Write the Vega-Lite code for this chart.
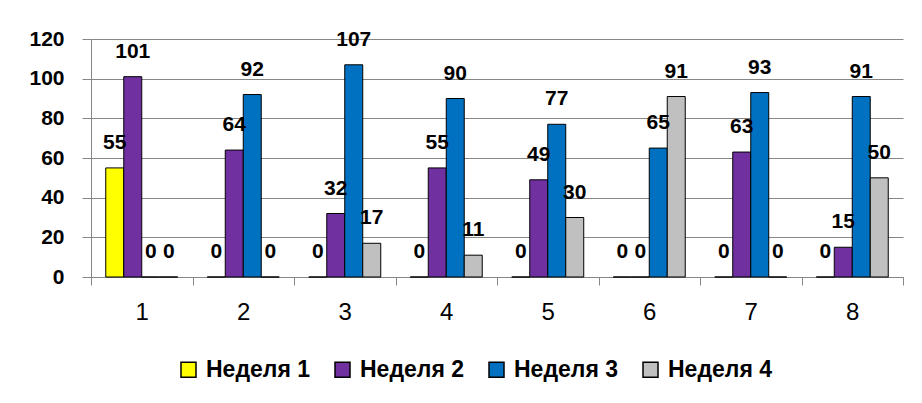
{
  "$schema": "https://vega.github.io/schema/vega-lite/v6.json",
  "autosize": {"type": "none"},
  "width": 812,
  "height": 238,
  "padding": {"left": 91, "top": 39, "right": 19, "bottom": 126},
  "background": "white",
  "config": {
    "view": {"stroke": null},
    "font": "Liberation Sans"
  },
  "data": {
    "values": [
      {"group": "1", "week": "Неделя 1", "value": 55},
      {"group": "1", "week": "Неделя 2", "value": 101},
      {"group": "1", "week": "Неделя 3", "value": 0},
      {"group": "1", "week": "Неделя 4", "value": 0},
      {"group": "2", "week": "Неделя 1", "value": 0},
      {"group": "2", "week": "Неделя 2", "value": 64},
      {"group": "2", "week": "Неделя 3", "value": 92},
      {"group": "2", "week": "Неделя 4", "value": 0},
      {"group": "3", "week": "Неделя 1", "value": 0},
      {"group": "3", "week": "Неделя 2", "value": 32},
      {"group": "3", "week": "Неделя 3", "value": 107},
      {"group": "3", "week": "Неделя 4", "value": 17},
      {"group": "4", "week": "Неделя 1", "value": 0},
      {"group": "4", "week": "Неделя 2", "value": 55},
      {"group": "4", "week": "Неделя 3", "value": 90},
      {"group": "4", "week": "Неделя 4", "value": 11},
      {"group": "5", "week": "Неделя 1", "value": 0},
      {"group": "5", "week": "Неделя 2", "value": 49},
      {"group": "5", "week": "Неделя 3", "value": 77},
      {"group": "5", "week": "Неделя 4", "value": 30},
      {"group": "6", "week": "Неделя 1", "value": 0},
      {"group": "6", "week": "Неделя 2", "value": 0},
      {"group": "6", "week": "Неделя 3", "value": 65},
      {"group": "6", "week": "Неделя 4", "value": 91},
      {"group": "7", "week": "Неделя 1", "value": 0},
      {"group": "7", "week": "Неделя 2", "value": 63},
      {"group": "7", "week": "Неделя 3", "value": 93},
      {"group": "7", "week": "Неделя 4", "value": 0},
      {"group": "8", "week": "Неделя 1", "value": 0},
      {"group": "8", "week": "Неделя 2", "value": 15},
      {"group": "8", "week": "Неделя 3", "value": 91},
      {"group": "8", "week": "Неделя 4", "value": 50}
    ]
  },
  "encoding": {
    "x": {
      "field": "group",
      "type": "nominal",
      "sort": null,
      "scale": {"paddingInner": 0, "paddingOuter": 0},
      "axis": {
        "title": null,
        "labelAngle": 0,
        "tickBand": "extent",
        "domainColor": "#868686",
        "tickColor": "#868686",
        "tickSize": 8,
        "labelFont": "Liberation Sans",
        "labelFontSize": 24,
        "labelColor": "black",
        "labelPadding": 15
      }
    },
    "xOffset": {
      "field": "week",
      "type": "nominal",
      "sort": null,
      "scale": {"paddingInner": 0, "paddingOuter": 0.82}
    },
    "y": {
      "field": "value",
      "type": "quantitative",
      "scale": {"domain": [0, 120], "nice": false},
      "axis": {
        "title": null,
        "values": [0, 20, 40, 60, 80, 100, 120],
        "gridColor": "#868686",
        "domainColor": "#868686",
        "tickColor": "#868686",
        "tickSize": 9,
        "labelFont": "Liberation Sans",
        "labelFontSize": 21,
        "labelFontWeight": "bold",
        "labelColor": "black",
        "labelPadding": 18
      }
    }
  },
  "layer": [
    {
      "mark": {"type": "bar", "stroke": "black", "strokeWidth": 1},
      "encoding": {
        "color": {
          "field": "week",
          "type": "nominal",
          "sort": null,
          "scale": {
            "domain": ["Неделя 1", "Неделя 2", "Неделя 3", "Неделя 4"],
            "range": ["#FFFF00", "#7030A0", "#0070C0", "#C0C0C0"]
          },
          "legend": {
            "title": null,
            "orient": "none",
            "direction": "horizontal",
            "legendX": 86,
            "legendY": 319,
            "symbolType": "square",
            "symbolSize": 225,
            "symbolStrokeColor": "black",
            "symbolStrokeWidth": 1.5,
            "symbolOpacity": 1,
            "labelFont": "Liberation Sans",
            "labelFontSize": 23,
            "labelFontWeight": "bold",
            "labelColor": "black",
            "labelOffset": 6,
            "labelLimit": 300,
            "columnPadding": 20
          }
        }
      }
    },
    {
      "mark": {
        "type": "text",
        "baseline": "alphabetic",
        "dy": -19,
        "font": "Liberation Sans",
        "fontSize": 21,
        "fontWeight": "bold",
        "color": "black"
      },
      "encoding": {
        "text": {"field": "value", "type": "quantitative"}
      }
    }
  ]
}
